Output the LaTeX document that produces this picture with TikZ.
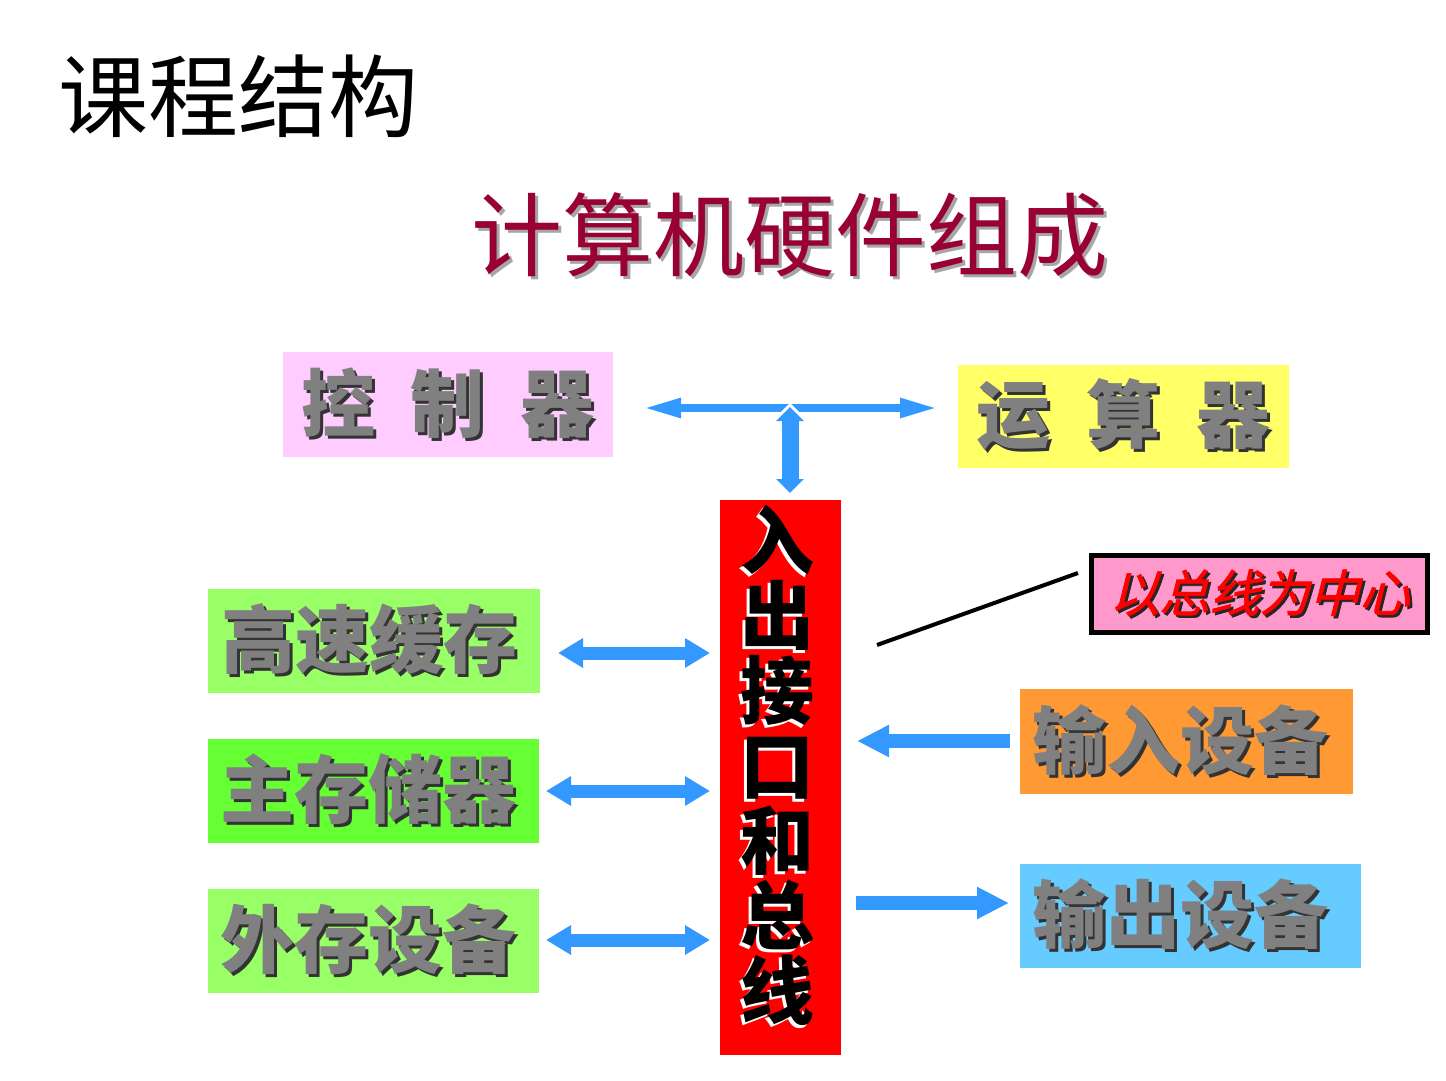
\documentclass[tikz,border=0pt]{standalone}
\usepackage{fontspec}
\usetikzlibrary{arrows.meta}
\newfontfamily\cjk{Noto Sans CJK SC}
\newfontfamily\cjkit{Noto Sans CJK SC}[FakeSlant=0.25,FakeBold=1.5]
\definecolor{ctrlpink}{HTML}{FFCCFF}
\definecolor{aluyellow}{HTML}{FFFF66}
\definecolor{lgreen}{HTML}{99FF66}
\definecolor{mgreen}{HTML}{66FF33}
\definecolor{iorange}{HTML}{FF9933}
\definecolor{oblue}{HTML}{66CCFF}
\definecolor{arrowblue}{HTML}{3399FF}
\definecolor{calloutpink}{HTML}{FF99CC}
\definecolor{titlered}{HTML}{990033}
\definecolor{boxgray}{HTML}{808080}
\definecolor{busred}{HTML}{FF0000}
\newcommand\shadowed[4]{\makebox[0pt][l]{\hspace*{#4}\raisebox{-#4}{\textcolor{#2}{#3}}}\textcolor{#1}{#3}}
\newcommand\glowch[1]{\makebox[0pt][l]{\hspace*{-1.5pt}\raisebox{-1.5pt}{\textcolor{white}{#1}}}\textcolor{black}{#1}}
\tikzset{
  unitbox/.style={fill=#1, inner sep=0pt, font=\cjk\bfseries\fontsize{37pt}{39pt}\selectfont},
  leftarrow/.style={draw=arrowblue, line width=6.5pt, {Triangle[length=12.5pt,width=14pt]}-{Triangle[length=12.5pt,width=14pt]}},
  sidearrow/.style={draw=arrowblue, line width=7pt, -{Triangle[length=16pt,width=15pt]}},
}
\begin{document}
\begin{tikzpicture}[x=0.5pt,y=-0.5pt]
\useasboundingbox[fill=white] (0,0) rectangle (1446,1081);
% titles
\node[anchor=west, inner sep=0pt, font=\cjk\fontsize{45pt}{47pt}\selectfont] (title) at (58,96) {课程结构};
\node[inner sep=0pt, font=\cjk\fontsize{45.5pt}{47pt}\selectfont] (subtitle) at (790,237) {\shadowed{titlered}{black!35}{计算机硬件组成}{1.5pt}};
% boxes
\node[unitbox=ctrlpink, minimum width=165pt, minimum height=52.5pt] (ctrl) at (448,404.5) {\shadowed{boxgray}{black!80}{控\hspace{18pt}制\hspace{18pt}器}{1.5pt}};
\node[unitbox=aluyellow, minimum width=165.5pt, minimum height=51.5pt] (alu) at (1123.5,416.5) {\shadowed{boxgray}{black!80}{运\hspace{18pt}算\hspace{18pt}器}{1.5pt}};
\node[unitbox=lgreen, minimum width=166pt, minimum height=52pt] (cache) at (374,641) {\hspace*{-5pt}\shadowed{boxgray}{black!80}{高速缓存}{1.5pt}};
\node[unitbox=mgreen, minimum width=165.5pt, minimum height=52pt] (mem) at (373.5,791) {\hspace*{-5pt}\shadowed{boxgray}{black!80}{主存储器}{1.5pt}};
\node[unitbox=lgreen, minimum width=165.5pt, minimum height=52pt] (ext) at (373.5,941) {\hspace*{-5pt}\shadowed{boxgray}{black!80}{外存设备}{1.5pt}};
\node[unitbox=iorange, minimum width=166.5pt, minimum height=52.5pt] (inp) at (1186.5,741.5) {\hspace*{-6pt}\shadowed{boxgray}{black!80}{输入设备}{1.5pt}};
\node[unitbox=oblue, minimum width=170.5pt, minimum height=52pt] (outp) at (1190.5,916) {\hspace*{-10pt}\shadowed{boxgray}{black!80}{输出设备}{1.5pt}};
\node[fill=busred, inner sep=0pt, minimum width=60.5pt, minimum height=277.5pt] (bus) at (780.5,777.5) {};
\node[inner sep=0pt, align=center, font=\cjk\bfseries\fontsize{37pt}{37.5pt}\selectfont] (bustext) at (777,767)
  {\glowch{入}\\\glowch{出}\\\glowch{接}\\\glowch{口}\\\glowch{和}\\\glowch{总}\\\glowch{线}};
\node[fill=calloutpink, draw=black, line width=2.5pt, inner sep=0pt, minimum width=168pt, minimum height=38.5pt,
  font=\cjkit\fontsize{25pt}{27pt}\selectfont] (callout) at (1259.5,594) {\shadowed{red}{black!85}{以总线为中心}{1.2pt}};
% connector coordinates
\coordinate (hl) at (643,408);
\coordinate (hr) at (938,408);
\coordinate (vt) at (790,407);
\coordinate (vb) at (790,493);
\coordinate (c1) at (558,653);
\coordinate (c2) at (710,653);
\coordinate (m1) at (546,791);
\coordinate (m2) at (710,791);
\coordinate (e1) at (546,940);
\coordinate (e2) at (710,940);
\coordinate (i1) at (1010,741);
\coordinate (i2) at (857,741);
\coordinate (o1) at (856,903);
\coordinate (o2) at (1009,903);
\coordinate (lead) at (877,645);
\coordinate (leadend) at (1078,573);
% arrows
\draw[arrowblue, line width=4pt, {Triangle[length=19pt,width=9pt]}-{Triangle[length=19pt,width=9pt]}] (hl) -- (hr);
\draw[white, line width=11pt, {Triangle[length=8.5pt,width=17pt]}-{Triangle[length=8.5pt,width=17pt]}] ([yshift=2pt]vt) -- ([yshift=-2pt]vb);
\draw[arrowblue, line width=8.5pt, {Triangle[length=7pt,width=13.5pt]}-{Triangle[length=7pt,width=13.5pt]}] (vt) -- (vb);
\draw[leftarrow] (c1) -- (c2);
\draw[leftarrow] (m1) -- (m2);
\draw[leftarrow] (e1) -- (e2);
\draw[sidearrow] (i1) -- (i2);
\draw[sidearrow] (o1) -- (o2);
\draw[line width=2pt] (lead) -- (leadend);
\end{tikzpicture}
\end{document}
